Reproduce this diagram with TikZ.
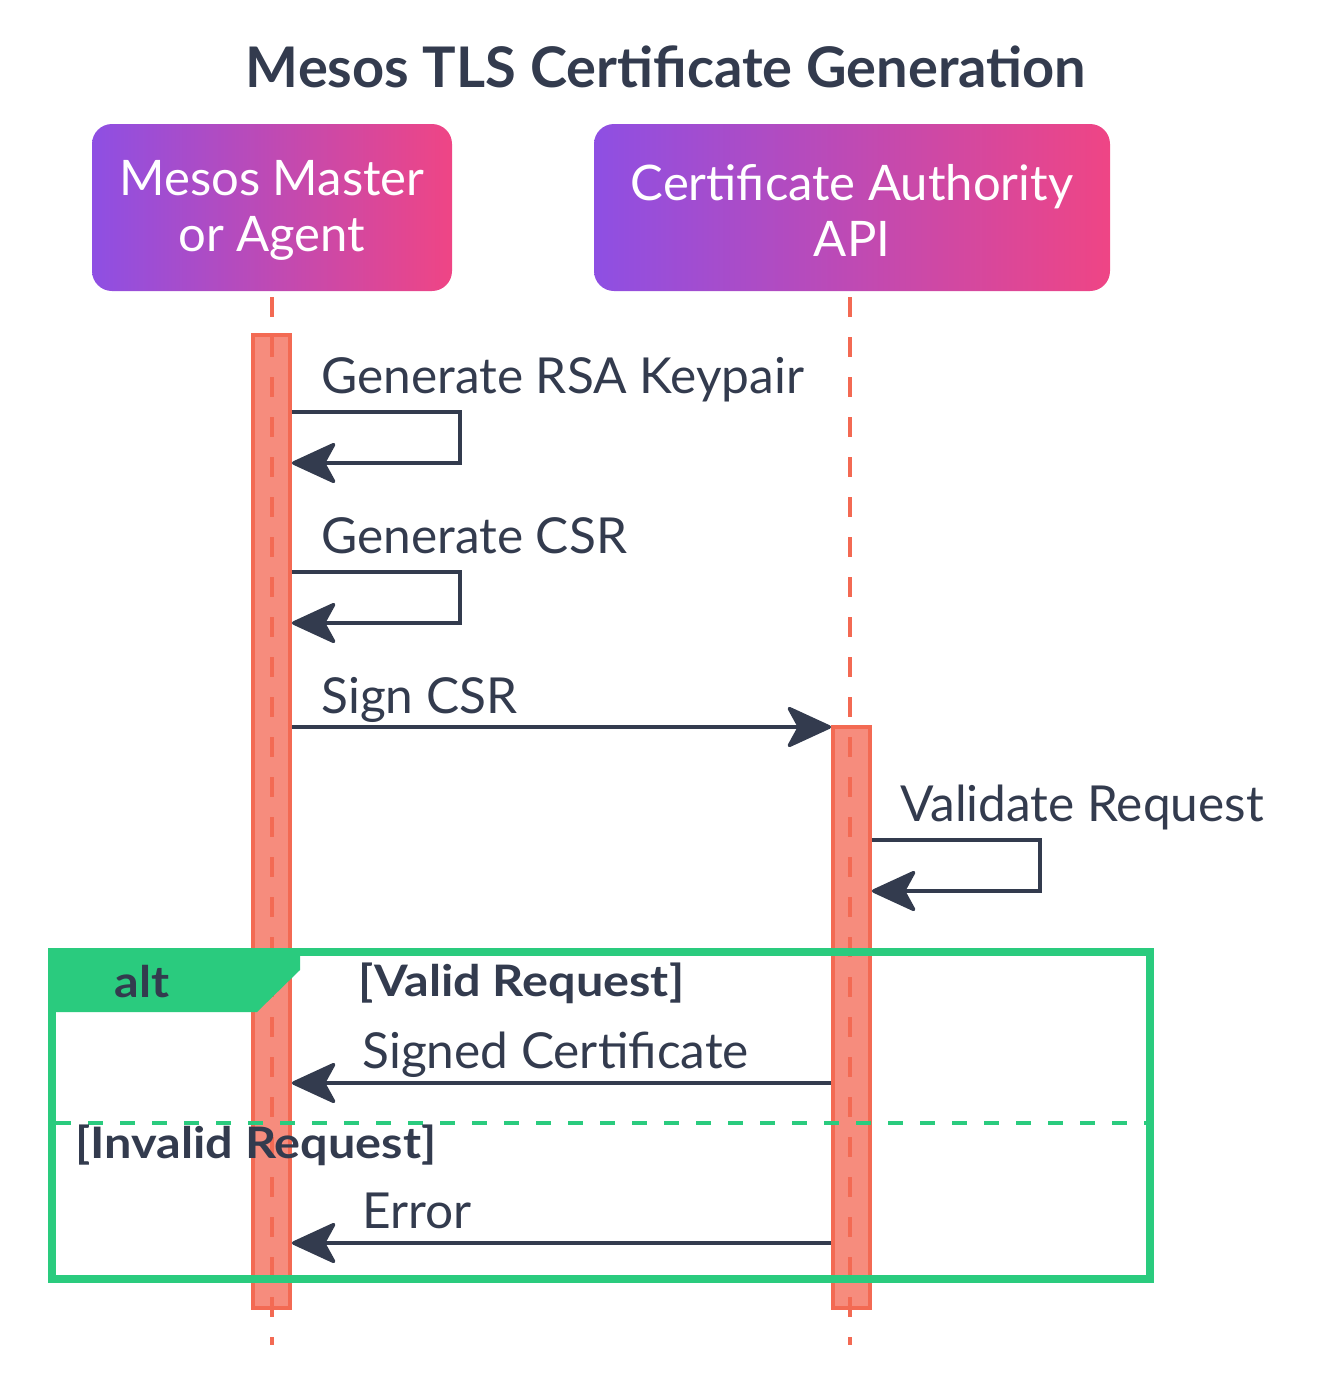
\documentclass[tikz,border=0pt]{standalone}
\usepackage{fontspec}
\setmainfont{Lato}
\newfontfamily\guardfont[FakeStretch=1.12]{Lato}
\usetikzlibrary{arrows.meta}
\definecolor{ink}{HTML}{333B4E}
\definecolor{altgreen}{HTML}{2ACB7E}
\definecolor{barfill}{HTML}{F68C7D}
\definecolor{barline}{HTML}{F36A53}
\definecolor{gradL}{HTML}{8E4FE3}
\definecolor{gradR}{HTML}{EF4585}
\tikzset{
  actorbox/.style={rounded corners=10pt, left color=gradL, right color=gradR, draw=none, inner sep=0pt},
  actortext/.style={text=white, align=center, font=\fontsize{24.5}{28}\selectfont, inner sep=0pt},
  barbox/.style={draw=barline, fill=barfill, line width=1.9pt, minimum width=18.5pt, inner sep=0pt},
  lifeline/.style={draw=barline, line width=1.6pt, dash pattern=on 10pt off 10pt},
  msg/.style={draw=ink, line width=1.75pt, -{Stealth[length=24pt, width=22pt, inset=6pt, round]}},
  msgtext/.style={text=ink, anchor=base west, inner sep=0pt, font=\fontsize{24.8}{28}\selectfont},
  guardtext/.style={text=ink, anchor=base west, inner sep=0pt, font=\guardfont\bfseries\fontsize{21.7}{24}\selectfont},
  altframe/.style={draw=altgreen, line width=4pt},
}
\begin{document}
\begin{tikzpicture}[x=0.5pt,y=-0.5pt]
\useasboundingbox (0,0) rectangle (1320,1392);
% title
\node[text=ink, anchor=base, inner sep=0pt, font=\bfseries\fontsize{28}{32}\selectfont] (title) at (666,87) {Mesos TLS Certificate Generation};
% actors
\node[actorbox, minimum width=180pt, minimum height=83.5pt] (ma) at (272,207.5) {};
\node[actortext] (mat) at ([yshift=-1.5pt]ma.center) {Mesos Master\\or Agent};
\node[actorbox, minimum width=258pt, minimum height=83.5pt] (ca) at (852,207.5) {};
\node[actortext] (cat) at ([yshift=-1.5pt]ca.center) {Certificate Authority\\API};
% activation bars
\node[barbox, minimum height=486.5pt] (b1) at (271.5,821.5) {};
\node[barbox, minimum height=290.5pt] (b2) at (851.5,1017.5) {};
% lifelines
\coordinate (l1t) at (272,297); \coordinate (l1b) at (272,1345);
\coordinate (l2t) at (850,297); \coordinate (l2b) at (850,1345);
\draw[lifeline] (l1t) -- (l1b);
\draw[lifeline] (l2t) -- (l2b);
% alt frame
\draw[altframe] (52,952) rectangle (1150,1279);
\fill[altgreen] (48,948) -- (300,948) -- (300,970) -- (257,1012) -- (48,1012) -- cycle;
\draw[altgreen, line width=2.2pt, dash pattern=on 7.5pt off 8.5pt] (56,1123) -- (1146,1123);
\node[guardtext] (altlbl) at (114,997) {alt};
\node[guardtext] (g1) at (358,996) {[Valid Request]};
\node[guardtext] (g2) at (75,1158) {[Invalid Request]};
% message y levels
\coordinate (y1a) at (0,412); \coordinate (y1b) at (0,463);
\coordinate (y2a) at (0,572); \coordinate (y2b) at (0,623);
\coordinate (y3) at (0,727);
\coordinate (y4a) at (0,840); \coordinate (y4b) at (0,891);
\coordinate (y5) at (0,1083);
\coordinate (y6) at (0,1243);
\coordinate (r1) at (460,0); \coordinate (r2) at (1040,0);
% messages
\node[msgtext] (t1) at (321,393) {Generate RSA Keypair};
\draw[msg] (b1.east |- y1a) -- (r1 |- y1a) -- (r1 |- y1b) -- (b1.east |- y1b);
\node[msgtext] (t2) at (321,553) {Generate CSR};
\draw[msg] (b1.east |- y2a) -- (r1 |- y2a) -- (r1 |- y2b) -- (b1.east |- y2b);
\node[msgtext] (t3) at (321,713) {Sign CSR};
\draw[msg] (b1.east |- y3) -- (b2.west |- y3);
\node[msgtext] (t4) at (900,821) {Validate Request};
\draw[msg] (b2.east |- y4a) -- (r2 |- y4a) -- (r2 |- y4b) -- (b2.east |- y4b);
\node[msgtext] (t5) at (362,1068) {Signed Certificate};
\draw[msg] (b2.west |- y5) -- (b1.east |- y5);
\node[msgtext] (t6) at (362,1228) {Error};
\draw[msg] (b2.west |- y6) -- (b1.east |- y6);
\end{tikzpicture}
\end{document}
